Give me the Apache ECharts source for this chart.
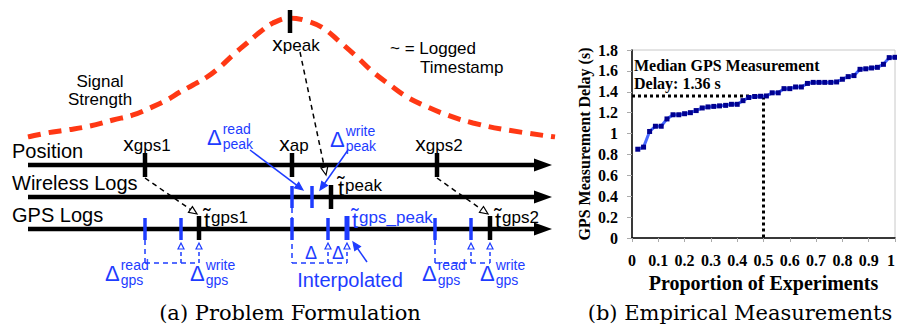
<!DOCTYPE html>
<html>
<head>
<meta charset="utf-8">
<script src="https://cdn.jsdelivr.net/npm/echarts@6/dist/echarts.min.js"></script>
<style>
html,body{margin:0;padding:0;background:#fff;}
#chart{width:897px;height:327px;}
</style>
</head>
<body>
<div id="chart"></div>
<script>
// ===== Panel (b): Empirical Measurements =====
const proportionOfExperiments = [0.022,0.044,0.067,0.089,0.111,0.133,0.156,0.178,0.200,0.222,0.244,0.267,0.289,0.311,0.333,0.356,0.378,0.400,0.422,0.444,0.467,0.489,0.511,0.533,0.556,0.578,0.600,0.622,0.644,0.667,0.689,0.711,0.733,0.756,0.778,0.800,0.822,0.844,0.867,0.889,0.911,0.933,0.956,0.978,1.000];
const gpsDelaySeconds = [0.85,0.87,1.02,1.07,1.07,1.14,1.18,1.18,1.19,1.20,1.22,1.245,1.255,1.26,1.265,1.27,1.28,1.28,1.315,1.345,1.355,1.357,1.36,1.39,1.39,1.43,1.43,1.446,1.446,1.48,1.49,1.49,1.49,1.49,1.494,1.52,1.545,1.555,1.615,1.62,1.628,1.634,1.663,1.727,1.73];
const medianDelay = 1.36;
const medianProportion = 0.5;

// ===== Panel (a): Problem Formulation (schematic) =====
const signalTime = [28,47,67,90,113,133,150,167,180,193,207,220,233,247,260,273,290,307,323,340,357,373,390,407,423,447,473,507,555];
const signalStrength = [0,0.034,0.059,0.092,0.143,0.185,0.244,0.311,0.378,0.437,0.504,0.588,0.689,0.790,0.882,0.958,1.0,0.975,0.916,0.798,0.672,0.546,0.437,0.336,0.269,0.185,0.118,0.059,0];
const timelineNames = ['Position', 'Wireless Logs', 'GPS Logs'];
const timelineSpan = [28, 552];
const positionMarkTimes = [145, 292, 437];
const positionMarkSubs = ['gps1', 'ap', 'gps2'];
const peakTime = 290;
const wirelessReadTime = 292;
const wirelessWriteTime = 312;
const wirelessLoggedTime = 331;
const gpsReadTimes = [145, 292, 435];
const gpsWriteTimes = [181, 328, 471];
const gpsLoggedTimes = [199, 347, 490];
const gpsLoggedSubs = ['gps1', 'gps_peak', 'gps2'];

// ----- styling -----
const SANS = '"Liberation Sans", Arial, sans-serif';
const SERIF = '"Liberation Serif", "Times New Roman", serif';
const CAPTION = '"DejaVu Serif", serif';
const BLUE = '#1e3cff';
const BLACK = '#000';
const RED = '#ff3814';

const measureCtx = document.createElement('canvas').getContext('2d');
function textWidth(str, size, family) {
  measureCtx.font = size + 'px ' + (family || SANS);
  return measureCtx.measureText(str).width;
}
function seg(x1, y1, x2, y2, color, w, dash) {
  return { type: 'line', silent: true, shape: { x1, y1, x2, y2 },
    style: { stroke: color, lineWidth: w, lineDash: dash || null, lineCap: 'butt' } };
}
function poly(points, fill, stroke, w) {
  return { type: 'polygon', silent: true, shape: { points },
    style: { fill, stroke, lineWidth: w || 0 } };
}
function txt(x, y, s, size, color, align, family, weight) {
  return { type: 'text', silent: true,
    style: { x, y, text: s, fontSize: size, fontFamily: family || SANS, fontWeight: weight || 'normal',
      fill: color, align: align || 'left', verticalAlign: 'middle' } };
}
function arrow(x1, y1, x2, y2, color, w, dash, open) {
  const a = Math.atan2(y2 - y1, x2 - x1), L = 8, H = 3.5;
  const bx = x2 - L * Math.cos(a), by = y2 - L * Math.sin(a);
  const px = -Math.sin(a) * H, py = Math.cos(a) * H;
  return [seg(x1, y1, bx, by, color, w, dash),
    poly([[x2, y2], [bx + px, by + py], [bx - px, by - py]], open ? '#fff' : color, color, 1.2)];
}
function subLabel(cx, cy, main, sub, color) {
  const wm = textWidth(main, 21), ws = textWidth(sub, 17);
  const left = cx - (wm + ws) / 2;
  return [txt(left, cy, main, 21, color), txt(left + wm, cy + 2, sub, 17, color)];
}
function tildeT(left, rowY, sub, color) {
  const wt = textWidth('t', 22);
  return [txt(left, rowY - 9, 't\u0303', 22, color),
    txt(left + wt + 1, rowY - 12, sub, 17, color)];
}
function deltaLabel(left, cy, sup, sub, color) {
  const wd = textWidth('Δ', 22);
  return [txt(left, cy, 'Δ', 22, color), txt(left + wd + 1, cy - 8, sup, 14, color),
    txt(left + wd + 1, cy + 7, sub, 14, color)];
}

const dom = document.getElementById('chart');
const chart = echarts.init(dom, null, { renderer: 'svg', width: 897, height: 327 });

function renderPeak(params, api) {
  const p = api.coord([api.value(0), api.value(1)]);
  const g = [seg(p[0], p[1] - 8, p[0], p[1] + 15, BLACK, 4.5)];
  g.push(...subLabel(p[0] + 6, p[1] + 25, 'x', 'peak', BLACK));
  const end = chart.convertToPixel({ gridIndex: 2 }, [wirelessLoggedTime, 1]);
  if (end) g.push(...arrow(p[0] + 10, p[1] + 34, end[0] - 5, end[1] - 22, BLACK, 1.5, [5, 4], true));
  return { type: 'group', children: g };
}

function renderTimelines(params, api) {
  const X = t => api.coord([t, 0])[0];
  const Y = r => api.coord([0, r])[1];
  const R = [Y(0), Y(1), Y(2)];
  const g = [];
  timelineNames.forEach((name, r) => {
    const y = R[r], x0 = X(timelineSpan[0]), x1 = X(timelineSpan[1]);
    g.push(seg(x0, y, x1 - 12, y, BLACK, 4.5));
    g.push(poly([[x1, y], [x1 - 18, y - 6.5], [x1 - 18, y + 6.5]], BLACK, BLACK, 0));
    g.push(txt(12, y - 14, name, 20, BLACK));
  });
  // Position marks
  positionMarkTimes.forEach((t, i) => {
    const x = X(t);
    g.push(seg(x, R[0] - 12, x, R[0] + 12, BLACK, 4.5));
    g.push(...subLabel(x + 2, R[0] - 22, 'x', positionMarkSubs[i], BLACK));
  });
  // Wireless log marks
  g.push(seg(X(wirelessReadTime), R[1] - 11, X(wirelessReadTime), R[1] + 11, BLUE, 3.5));
  g.push(seg(X(wirelessWriteTime), R[1] - 11, X(wirelessWriteTime), R[1] + 11, BLUE, 3.5));
  g.push(seg(X(wirelessLoggedTime), R[1] - 12, X(wirelessLoggedTime), R[1] + 12, BLACK, 4.5));
  g.push(...tildeT(X(wirelessLoggedTime) + 7, R[1], 'peak', BLACK));
  g.push(...deltaLabel(207, R[0] - 28, 'read', 'peak', BLUE));
  g.push(...deltaLabel(330, R[0] - 26, 'write', 'peak', BLUE));
  g.push(...arrow(250, R[0] - 15, X(wirelessReadTime) + 11, R[1] - 7, BLUE, 1.5, null, false));
  g.push(...arrow(348, R[0] - 15, X(wirelessWriteTime) + 8, R[1] - 7, BLUE, 1.5, null, false));
  // GPS log groups
  const deltaLeft = [[105, 190], null, [422, 480]];
  gpsReadTimes.forEach((tr, i) => {
    const xr = X(tr), xw = X(gpsWriteTimes[i]), xl = X(gpsLoggedTimes[i]);
    const interp = gpsLoggedSubs[i] === 'gps_peak';
    const yb = R[2] + 34;
    const yTop = interp ? R[1] + 11 : R[2] + 11;
    g.push(seg(xr, yTop, xr, yb, BLUE, 1.5, [5, 4]));
    g.push(seg(xr, yb, xl, yb, BLUE, 1.5, [5, 4]));
    [xw, xl].forEach(x => {
      g.push(seg(x, yb, x, R[2] + 20, BLUE, 1.5, [4, 3]));
      g.push(poly([[x, R[2] + 14], [x - 3, R[2] + 20], [x + 3, R[2] + 20]], '#fff', BLUE, 1.2));
    });
    g.push(seg(xr, R[2] - 11, xr, R[2] + 11, BLUE, 3.5));
    g.push(seg(xw, R[2] - 11, xw, R[2] + 11, BLUE, 3.5));
    g.push(seg(xl, R[2] - 13, xl, R[2] + 11, interp ? BLUE : BLACK, interp ? 5 : 4.5));
    g.push(...tildeT(xl + 5, R[2], gpsLoggedSubs[i], interp ? BLUE : BLACK));
    if (deltaLeft[i]) {
      g.push(...deltaLabel(deltaLeft[i][0], R[2] + 44, 'read', 'gps', BLUE));
      g.push(...deltaLabel(deltaLeft[i][1], R[2] + 44, 'write', 'gps', BLUE));
      g.push(...arrow(X(positionMarkTimes[i]), R[0] + 13, xl - 2, R[2] - 15, BLACK, 1.5, [5, 4], true));
    } else {
      g.push(txt(305, R[2] + 24, 'Δ', 18, BLUE));
      g.push(txt(332, R[2] + 24, 'Δ', 18, BLUE));
      g.push(txt(xl + 3, R[2] + 51, 'Interpolated', 20, BLUE, 'center'));
      g.push(...arrow(xl + 20, R[2] + 33, xl + 6, R[2] + 13, BLUE, 1.5, null, false));
    }
  });
  return { type: 'group', children: g };
}

const boldSerif = { fontFamily: SERIF, fontWeight: 'bold', color: '#000' };
const fmt = v => (Math.abs(v) < 1e-9 ? '0' : Math.abs(v - 1) < 1e-9 ? '1' : v.toFixed(1));
const hiddenAxis = { show: false };

const option = {
  animation: false,
  backgroundColor: '#fff',
  grid: [
    { left: 632, top: 50, width: 263, height: 188, show: true, borderColor: '#c8c8c8', borderWidth: 1, outerBoundsMode: 'none', containLabel: false },
    { left: 0, top: 18, width: 580, height: 119, outerBoundsMode: 'none', containLabel: false },
    { left: 0, top: 165, width: 580, height: 64, outerBoundsMode: 'none', containLabel: false }
  ],
  xAxis: [
    { gridIndex: 0, type: 'value', min: 0, max: 1, interval: 0.1,
      axisLine: { show: true, onZero: false, lineStyle: { color: '#000', width: 1.5 } },
      axisTick: { show: true, length: 4, lineStyle: { color: '#aaa' } },
      splitLine: { show: false },
      axisLabel: Object.assign({ margin: 14, fontSize: 16, formatter: fmt, showMaxLabel: true, showMinLabel: true, hideOverlap: false, alignMaxLabel: 'right' }, boldSerif),
      name: 'Proportion of Experiments', nameLocation: 'middle', nameGap: 28,
      nameTextStyle: Object.assign({ fontSize: 20 }, boldSerif) },
    Object.assign({ gridIndex: 1, type: 'value', min: 0, max: 580 }, hiddenAxis),
    Object.assign({ gridIndex: 2, type: 'value', min: 0, max: 580 }, hiddenAxis)
  ],
  yAxis: [
    { gridIndex: 0, type: 'value', min: 0, max: 1.8, interval: 0.2,
      axisLine: { show: true, onZero: false, lineStyle: { color: '#000', width: 1.5 } },
      axisTick: { show: true, length: 5, lineStyle: { color: '#aaa' } },
      splitLine: { show: false },
      axisLabel: Object.assign({ margin: 14, fontSize: 16, formatter: fmt }, boldSerif),
      name: 'GPS Measurement Delay (s)', nameLocation: 'middle', nameGap: 40, nameRotate: 90,
      nameTextStyle: Object.assign({ fontSize: 16 }, boldSerif) },
    Object.assign({ gridIndex: 1, type: 'value', min: 0, max: 1 }, hiddenAxis),
    Object.assign({ gridIndex: 2, type: 'value', min: 0, max: 2, inverse: true }, hiddenAxis)
  ],
  series: [
    { type: 'line', xAxisIndex: 0, yAxisIndex: 0, z: 2,
      data: [[0, medianDelay], [medianProportion, medianDelay], [medianProportion, 0]],
      symbol: 'none', lineStyle: { color: '#000', width: 3, type: [3, 3] } },
    { type: 'line', xAxisIndex: 0, yAxisIndex: 0, z: 3,
      data: proportionOfExperiments.map((p, i) => [p, gpsDelaySeconds[i]]),
      symbol: 'rect', symbolSize: 5, showSymbol: true,
      lineStyle: { color: '#4868ff', width: 3 }, itemStyle: { color: '#000090' } },
    { type: 'line', xAxisIndex: 1, yAxisIndex: 1, z: 2,
      data: signalTime.map((t, i) => [t, signalStrength[i]]),
      smooth: 0.4, symbol: 'none',
      lineStyle: { color: RED, width: 5, type: [13, 8] } },
    { type: 'custom', xAxisIndex: 1, yAxisIndex: 1, z: 4, clip: false,
      data: [[peakTime, 1]], renderItem: renderPeak },
    { type: 'custom', xAxisIndex: 2, yAxisIndex: 2, z: 3, clip: false,
      data: [[0, 0]], renderItem: renderTimelines }
  ],
  graphic: [
    { type: 'text', x: 100, y: 81, silent: true, style: { text: 'Signal', fontSize: 17, fontFamily: SANS, fill: '#000', align: 'center', verticalAlign: 'middle' } },
    { type: 'text', x: 100, y: 99, silent: true, style: { text: 'Strength', fontSize: 17, fontFamily: SANS, fill: '#000', align: 'center', verticalAlign: 'middle' } },
    { type: 'text', x: 390, y: 48, silent: true, style: { text: '~ = Logged', fontSize: 17, fontFamily: SANS, fill: '#000', align: 'left', verticalAlign: 'middle' } },
    { type: 'text', x: 420, y: 67, silent: true, style: { text: 'Timestamp', fontSize: 17, fontFamily: SANS, fill: '#000', align: 'left', verticalAlign: 'middle' } },
    { type: 'text', x: 634, y: 65, silent: true, style: { text: 'Median GPS Measurement', fontSize: 16, fontWeight: 'bold', fontFamily: SERIF, fill: '#000', align: 'left', verticalAlign: 'middle' } },
    { type: 'text', x: 634, y: 83, silent: true, style: { text: 'Delay: ' + medianDelay + ' s', fontSize: 16, fontWeight: 'bold', fontFamily: SERIF, fill: '#000', align: 'left', verticalAlign: 'middle' } },
    { type: 'text', x: 290, y: 313, silent: true, style: { text: '(a) Problem Formulation', fontSize: 21, fontFamily: CAPTION, fill: '#000', align: 'center', verticalAlign: 'middle' } },
    { type: 'text', x: 740, y: 313, silent: true, style: { text: '(b) Empirical Measurements', fontSize: 21, fontFamily: CAPTION, fill: '#000', align: 'center', verticalAlign: 'middle' } }
  ]
};
chart.setOption(option);
</script>
</body>
</html>
